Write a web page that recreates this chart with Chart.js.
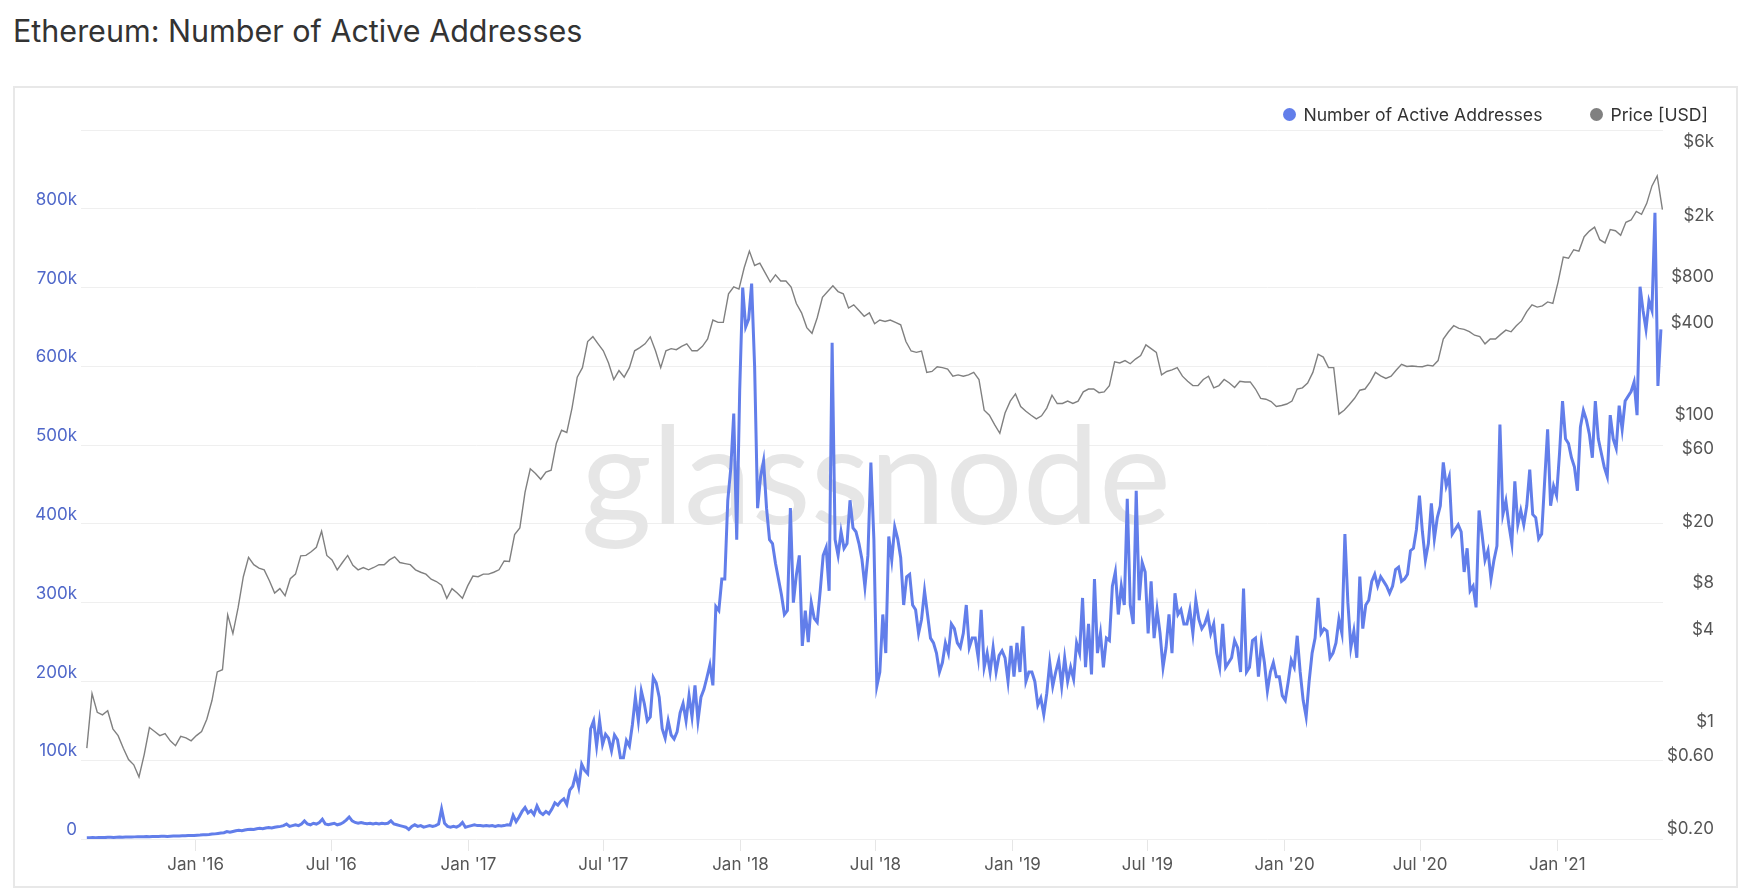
<!DOCTYPE html>
<html>
<head>
<meta charset="utf-8">
<title>Ethereum: Number of Active Addresses</title>
<script src="https://cdn.jsdelivr.net/npm/chart.js@4.4.1/dist/chart.umd.min.js"></script>
<style>
  html, body { margin: 0; padding: 0; background: #fff; }
  body { width: 1747px; height: 890px; position: relative; overflow: hidden; font-family: Inter, "Noto Sans", sans-serif; }
  .title { position: absolute; left: 13px; top: 16px; font-size: 30.5px; line-height: 30.5px; color: #333; white-space: nowrap; }
  .panel { position: absolute; left: 13px; top: 86px; width: 1725px; height: 802px; border: 2px solid #e8e8e8; box-sizing: border-box; }
  .chart-box { position: absolute; left: 0; top: 0; width: 1747px; height: 890px; }
  .legend { position: absolute; right: 39px; top: 104px; height: 20px; display: flex; align-items: center; gap: 48px; font-size: 17.6px; color: #333; }
  .legend-item { display: flex; align-items: center; white-space: nowrap; }
  .color-box { width: 13px; height: 13px; border-radius: 50%; margin-right: 7px; }
</style>
</head>
<body>
<div class="title">Ethereum: Number of Active Addresses</div>
<div class="panel"></div>
<div class="chart-box"><canvas id="myChart"></canvas></div>
<div class="legend" id="custom-legend"></div>

<script>
// active addresses, in thousands, one value every 4 days from 2015-08-08
const addressStartDate = "2015-08-08";
const addressStepDays = 4;
const activeAddressesK = [
  1.5,1.6,1.8,1.7,1.9,2.0,1.8,2.1,2.2,2.0,
  2.3,2.4,2.2,2.5,2.6,2.4,2.7,2.9,2.8,3.0,
  3.1,2.9,3.2,3.3,3.1,3.4,3.5,3.3,3.6,3.8,
  3.7,3.9,4.1,4.0,4.3,4.5,4.4,4.8,5.0,5.4,
  5.5,5.8,6.2,6.5,7,7.5,8,9.5,8.5,9.5,
  10.5,11,10.5,11.5,12,12.5,12,13,13.5,13,
  14,14.5,14,15,15.5,16,17,19,16,17,
  18,17,19,23,19,18,20,19,21,25,
  19,18,19,20,18,19,21,24,28,23,
  21,20,21,20,19.5,20,19,20,19,20,
  19.5,20,23,19,18,17,16,15,12,16,
  18,16,17,15,16,17,16,17,19,38,
  20,16,15,16,15,17,21,15,16,17,
  18,17,17,16.5,17,16.5,17,16,17,16.5,
  17,18,17.5,30,22,28,35,40,33,36,
  31,42,34,31,35,32,38,46,43,48,
  51,44,62,67,82,66,95,87,83,140,
  150,118,150,120,133,128,112,132,126,103,
  103,125,118,145,180,150,188,172,150,155,
  205,198,180,140,128,150,132,127,136,160,
  172,150,182,155,195,150,180,190,205,221,
  195,295,290,330,330,430,470,540,380,570,
  700,650,660,705,600,420,460,480,420,380,
  375,350,330,310,285,290,420,300,335,360,
  245,290,250,300,280,275,315,360,370,315,
  630,380,360,390,369,375,430,395,390,375,
  355,320,360,478,381,194,212,285,236,384,
  354,396,381,357,297,333,336,297,291,261,
  279,315,285,255,249,236,212,224,249,236,
  273,267,249,243,261,297,243,255,255,230,
  291,218,236,212,243,212,233,239,230,200,
  245,206,249,212,270,200,212,212,200,170,
  179,158,185,224,194,212,227,194,230,200,
  218,203,249,236,306,218,273,209,330,236,
  261,218,255,252,321,339,285,321,297,432,
  297,273,442,303,351,339,261,327,255,291,
  261,218,243,285,236,312,285,291,273,273,
  291,261,303,279,267,273,285,261,273,236,
  218,273,218,224,230,252,243,212,318,212,
  218,252,255,206,249,224,188,212,224,206,
  206,182,176,200,227,218,258,212,176,155,
  200,236,255,306,261,267,264,230,236,249,
  279,261,387,300,243,264,230,333,267,297,
  303,327,336,321,333,327,321,312,321,342,
  345,327,330,336,366,369,393,436,390,354,
  375,426,381,408,423,478,448,460,387,393,
  399,390,339,369,315,321,294,417,387,354,
  366,330,354,372,526,412,429,399,375,454,
  399,417,399,423,469,412,408,381,387,454,
  520,423,448,436,490,556,508,502,484,472,
  442,523,544,532,514,484,556,508,490,472,
  460,538,508,496,550,520,556,562,568,580,
  538,701,671,647,683,671,795,575,647
];

// ETH price in USD, one value every 7 days from 2015-08-08
const priceStartDate = "2015-08-08";
const priceStepDays = 7;
const priceUsd = [
  0.77,1.75,1.32,1.27,1.35,1.03,0.93,0.77,0.65,0.60,
  0.50,0.70,1.05,0.99,0.93,0.96,0.86,0.80,0.92,0.90,
  0.86,0.93,0.99,1.19,1.58,2.42,2.5,5.7,4.3,6.35,
  10.1,13.5,12.1,11.5,11.2,9.5,7.9,8.45,7.6,9.8,
  10.5,13.8,13.9,14.7,15.7,20.0,13.9,13,11.2,12.5,
  13.9,12.0,11.2,11.6,11.2,11.6,12.1,12.1,13,13.6,
  12.5,12.3,12.1,11.2,10.8,10.5,9.74,9.4,8.9,7.3,
  8.45,7.9,7.3,8.8,10.2,10.1,10.5,10.5,10.8,11.2,
  12.8,12.7,19,21,36,51,47.5,43.6,48.5,50,
  75,91,88,127,202,233,345,371,333,300,
  250,195,223,202,233,300,315,333,370,300,
  233,300,310,305,321,333,300,300,321,358,
  476,460,460,705,784,757,1043,1340,1080,1120,
  971,842,938,855,855,780,610,530,425,390,
  493,670,730,795,730,705,570,598,549,504,
  530,450,476,466,476,459,443,345,299,293,
  299,217,220,236,233,228,205,209,205,209,
  217,195,123,114,99,87,118,141,157,130,
  121,114,108,113,127,154,136,136,141,136,
  141,162,169,169,160,162,178,254,250,259,
  247,265,279,328,310,293,209,220,225,233,
  205,190,178,178,195,205,172,178,195,185,
  173,190,188,188,169,147,145,140,130,132,
  135,141,169,172,185,217,285,273,233,233,
  116,123,134,147,166,169,188,217,206,198,
  205,225,245,237,239,237,236,242,239,259,
  358,399,437,420,414,400,379,371,333,358,
  358,384,409,399,437,470,540,598,578,589,
  625,612,842,1225,1203,1368,1340,1663,1810,1918,
  1590,1516,1850,1820,1700,2065,2137,2430,2330,2744,
  3565,4140,2500
];

// axis ticks
const xTickDates = ["2016-01-01","2016-07-01","2017-01-01","2017-07-01","2018-01-01","2018-07-01",
                    "2019-01-01","2019-07-01","2020-01-01","2020-07-01","2021-01-01"];
const xTickLabels = ["Jan '16","Jul '16","Jan '17","Jul '17","Jan '18","Jul '18",
                     "Jan '19","Jul '19","Jan '20","Jul '20","Jan '21"];
const priceTicks = [0.2, 0.6, 1, 4, 8, 20, 60, 100, 400, 800, 2000, 6000];

const seriesNames = ["Number of Active Addresses", "Price [USD]"];
const seriesColors = ["#627eea", "#808080"];

// x values are days counted from 2016-01-01
const baseDay = Date.parse("2016-01-01");
const dayOf = s => (Date.parse(s) - baseDay) / 864e5;

const addrStart = dayOf(addressStartDate);
const addressPoints = activeAddressesK.map((v, i) => ({ x: addrStart + i * addressStepDays, y: v }));
const priceStart = dayOf(priceStartDate);
const pricePoints = priceUsd.map((v, i) => ({ x: priceStart + i * priceStepDays, y: v }));
const xTickDays = xTickDates.map(dayOf);

function formatPrice(v) {
  if (v < 1) return "$" + v.toFixed(2);
  if (v >= 1000) return "$" + (v / 1000) + "k";
  return "$" + v;
}

// 배경 워터마크
const watermark = {
  id: "watermark",
  beforeDatasetsDraw(chart) {
    const { ctx, chartArea } = chart;
    ctx.save();
    ctx.font = "400 100px Lato";
    const size = 100 * 590 / ctx.measureText("glassnode").width;
    ctx.font = "400 " + size + "px Lato";
    ctx.fillStyle = "#e6e6e6";
    ctx.textAlign = "center";
    ctx.textBaseline = "alphabetic";
    ctx.fillText("glassnode", (chartArea.left + chartArea.right) / 2 + 4, chartArea.top + chartArea.height * 0.556);
    ctx.restore();
  }
};

Chart.defaults.font.family = 'Inter, "Noto Sans", sans-serif';
Chart.defaults.font.size = 17;

const chartCanvas = document.getElementById("myChart");
const chartInstance = new Chart(chartCanvas, {
  type: "line",
  data: {
    datasets: [
      {
        label: seriesNames[0],
        data: addressPoints,
        yAxisID: "y",
        borderColor: seriesColors[0],
        borderWidth: 3,
        pointRadius: 0,
        tension: 0
      },
      {
        label: seriesNames[1],
        data: pricePoints,
        yAxisID: "price",
        borderColor: seriesColors[1],
        borderWidth: 1.4,
        pointRadius: 0,
        tension: 0
      }
    ]
  },
  options: {
    responsive: true,
    maintainAspectRatio: false,
    animation: false,
    layout: { padding: { left: 21, right: 33, top: 130, bottom: 11 } },
    plugins: {
      legend: { display: false },
      tooltip: { enabled: false }
    },
    scales: {
      x: {
        type: "linear",
        min: -153.8,
        max: 1968.8,
        grid: { drawOnChartArea: false, tickLength: 12, color: "#e6e6e6" },
        border: { display: false },
        afterBuildTicks: s => { s.ticks = xTickDays.map(v => ({ value: v })); },
        afterFit: s => { s.height = 40; },
        ticks: {
          autoSkip: false,
          maxRotation: 0,
          padding: 4,
          color: "#555",
          callback: (v, i) => xTickLabels[i]
        }
      },
      y: {
        position: "left",
        min: 0,
        max: 900,
        grid: { color: "#efefef", drawTicks: false },
        border: { display: false },
        afterFit: s => { s.width = 60; },
        ticks: {
          stepSize: 100,
          padding: 4,
          labelOffset: -9,
          color: "#4f67c9",
          callback: v => v === 900 ? "" : (v === 0 ? "0" : v + "k")
        }
      },
      price: {
        type: "logarithmic",
        position: "right",
        min: 0.197,
        max: 8252,
        bounds: "data",
        grid: { display: false },
        border: { display: false },
        afterBuildTicks: s => { s.ticks = priceTicks.map(v => ({ value: v })); },
        afterFit: s => { s.width = 51; },
        ticks: {
          crossAlign: "far",
          labelOffset: -9,
          color: "#555",
          callback: v => formatPrice(v)
        }
      }
    }
  },
  plugins: [watermark]
});

// HTML 범례
const chartLegend = document.getElementById("custom-legend");
seriesNames.forEach((name, i) => {
  const item = document.createElement("div");
  item.classList.add("legend-item");
  const dot = document.createElement("span");
  dot.classList.add("color-box");
  dot.style.backgroundColor = seriesColors[i];
  item.appendChild(dot);
  item.appendChild(document.createTextNode(name));
  chartLegend.appendChild(item);
});
</script>
</body>
</html>
